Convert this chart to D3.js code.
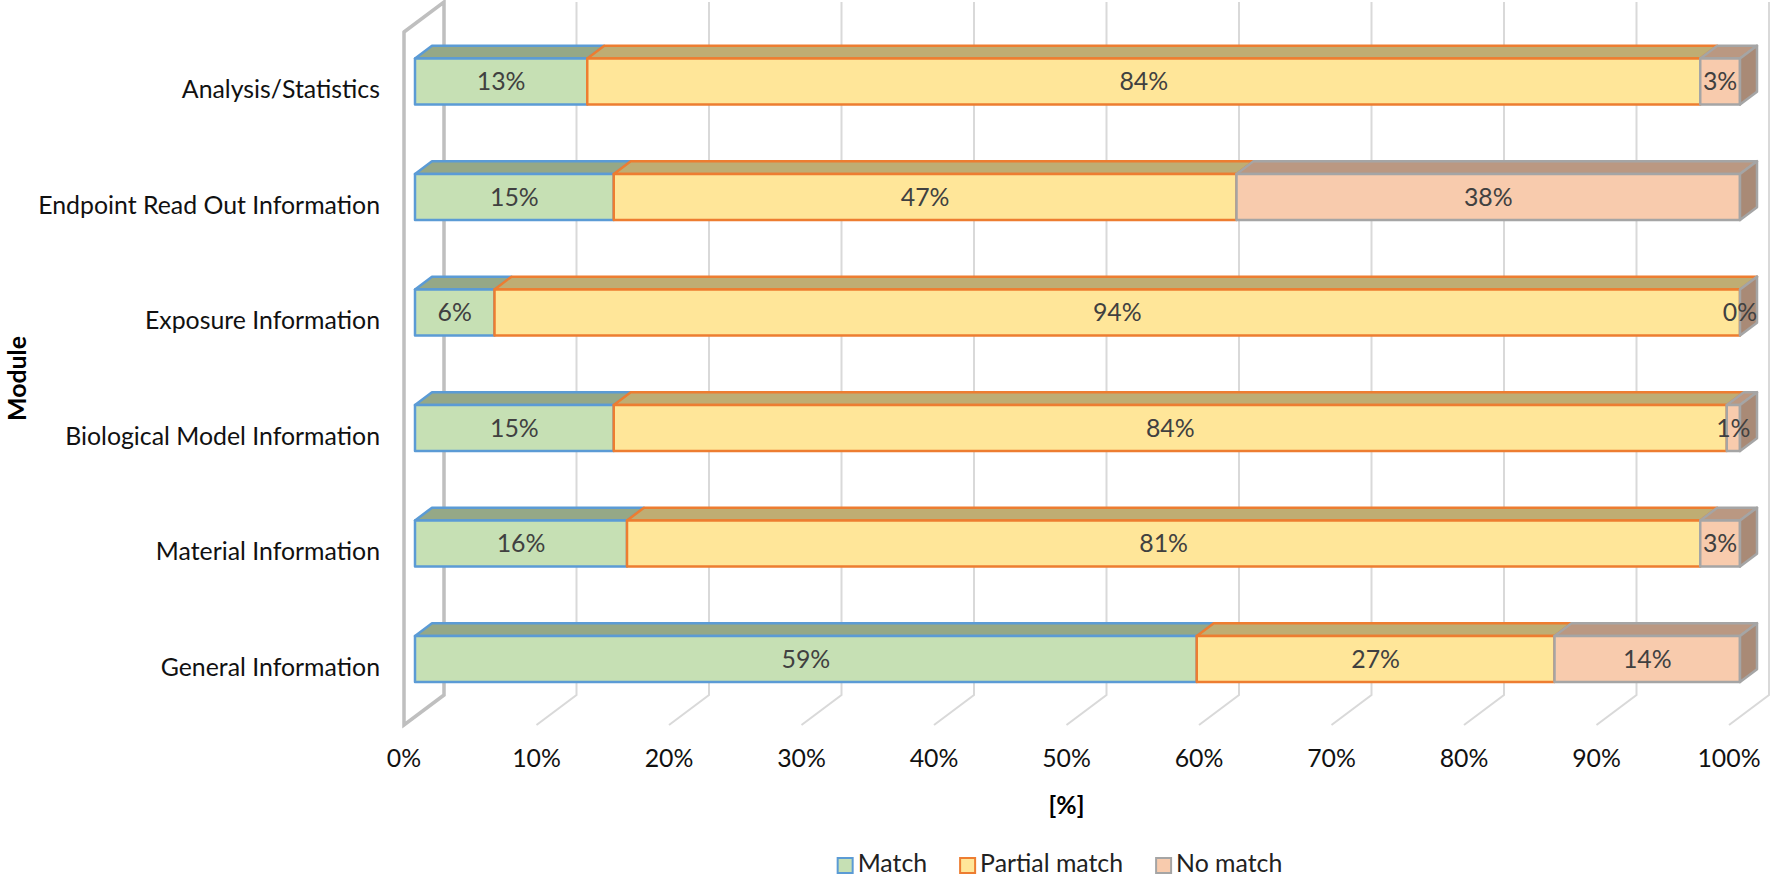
<!DOCTYPE html>
<html>
<head>
<meta charset="utf-8">
<script src="https://cdn.jsdelivr.net/npm/d3@7"></script>
<style>
  html, body { margin: 0; padding: 0; background: #fff; overflow: hidden; }
  svg { display: block; }
  text { font-family: Lato, "Open Sans", sans-serif; }
</style>
</head>
<body>
<svg id="chart" width="1770" height="878"></svg>
<script>
// ---------- data ----------
const categories = [
  "Analysis/Statistics",
  "Endpoint Read Out Information",
  "Exposure Information",
  "Biological Model Information",
  "Material Information",
  "General Information"
];
const seriesNames = ["Match", "Partial match", "No match"];
const matchValues   = [13, 15, 6, 15, 16, 59];
const partialValues = [84, 47, 94, 84, 81, 27];
const noMatchValues = [3, 38, 0, 1, 3, 14];
const xTickValues = [0, 10, 20, 30, 40, 50, 60, 70, 80, 90, 100];
const xAxisTitle = "[%]";
const yAxisTitle = "Module";

// ---------- style ----------
const fills   = ["#C6E0B4", "#FFE699", "#F8CBAD"];
const borders = ["#5B9BD5", "#ED7D31", "#A5A5A5"];
const topShade = 0.75, sideShade = 0.68;
const shade = (c, k) => { const r = d3.rgb(c); return d3.rgb(r.r * k, r.g * k, r.b * k).formatHex(); };

const svg = d3.select("#chart");

// font size fitted to a Calibri-like label width
const probe = svg.append("text").attr("font-size", 100).text("Biological Model Information");
const probeW = probe.node().getComputedTextLength();
probe.remove();
const FS = Math.min(27, 100 * 315 / probeW);

// ---------- geometry ----------
const x = d3.scaleLinear().domain([0, 100]).range([404, 1729]);
const y = d3.scaleBand().domain(categories).range([32, 725]).paddingInner(0.6).paddingOuter(0.3);
const yBand = d3.scaleBand().domain(categories).range([32, 725]);
const DX = 40, DY = -30;          // full depth of the plot
const f1 = 0.275, f2 = 0.7;       // bar depth (front, back) as fractions
const fx = DX * f1, fy = DY * f1, bx = DX * f2, by = DY * f2;
const bh = y.bandwidth();

// ---------- walls & grid ----------
const grid = svg.append("g");
xTickValues.forEach(t => {
  if (t === 0) return;
  const xf = x(t), xb = x(t) + DX;
  grid.append("path")
    .attr("d", `M${xb},${32 + DY} L${xb},${725 + DY} L${xf},725`)
    .attr("fill", "none").attr("stroke", "#D9D9D9").attr("stroke-width", 2);
});
// left side wall
grid.append("path")
  .attr("d", `M${x(0)},32 L${x(0) + DX},${32 + DY} L${x(0) + DX},${725 + DY} L${x(0)},725 Z`)
  .attr("fill", "none").attr("stroke", "#BFBFBF").attr("stroke-width", 3.5).attr("stroke-linejoin", "miter");

// ---------- bars ----------
const seriesValues = [matchValues, partialValues, noMatchValues];
const stackData = categories.map((c, i) => {
  const o = { cat: c };
  seriesNames.forEach((s, k) => o[s] = seriesValues[k][i]);
  return o;
});
const stacked = d3.stack().keys(seriesNames)(stackData);

const barsG = svg.append("g");
categories.forEach((cat, i) => {
  const yt = y(cat);
  stacked.forEach((layer, k) => {
    const x0 = x(layer[i][0]), x1 = x(layer[i][1]);
    const g = barsG.append("g")
      .attr("stroke", borders[k]).attr("stroke-width", 2.5).attr("stroke-linejoin", "round");
    // top face
    g.append("path")
      .attr("d", `M${x0 + fx},${yt + fy} L${x1 + fx},${yt + fy} L${x1 + bx},${yt + by} L${x0 + bx},${yt + by} Z`)
      .attr("fill", shade(fills[k], topShade));
    // front face
    g.append("rect")
      .attr("x", x0 + fx).attr("y", yt + fy)
      .attr("width", Math.max(0, x1 - x0)).attr("height", bh)
      .attr("fill", fills[k]);
    // right side face for the last segment
    if (k === stacked.length - 1) {
      g.append("path")
        .attr("d", `M${x1 + fx},${yt + fy} L${x1 + bx},${yt + by} L${x1 + bx},${yt + by + bh} L${x1 + fx},${yt + fy + bh} Z`)
        .attr("fill", shade(fills[k], sideShade));
    }
  });
  // data labels
  stacked.forEach((layer, k) => {
    const x0 = x(layer[i][0]), x1 = x(layer[i][1]);
    barsG.append("text")
      .attr("x", (x0 + x1) / 2 + fx).attr("y", yt + fy + bh / 2)
      .attr("dy", "0.35em").attr("text-anchor", "middle")
      .attr("font-size", FS).attr("fill", "#404040")
      .text(seriesValues[k][i] + "%");
  });
});

// ---------- axes labels ----------
const catG = svg.append("g");
categories.forEach(cat => {
  catG.append("text")
    .attr("x", 380).attr("y", yBand(cat) + yBand.bandwidth() / 2)
    .attr("dy", "0.35em").attr("text-anchor", "end")
    .attr("font-size", FS).attr("fill", "#111")
    .text(cat);
});
const tickG = svg.append("g");
xTickValues.forEach(t => {
  tickG.append("text")
    .attr("x", x(t)).attr("y", 758)
    .attr("dy", "0.35em").attr("text-anchor", "middle")
    .attr("font-size", FS).attr("fill", "#111")
    .text(t + "%");
});
svg.append("text")
  .attr("x", (x(0) + x(100)) / 2).attr("y", 805).attr("dy", "0.35em")
  .attr("text-anchor", "middle").attr("font-size", FS).attr("font-weight", "bold").attr("fill", "#000")
  .text(xAxisTitle);
svg.append("text")
  .attr("transform", `translate(26,${(32 + 725) / 2}) rotate(-90)`)
  .attr("text-anchor", "middle")
  .attr("font-size", FS).attr("font-weight", "bold").attr("fill", "#000")
  .text(yAxisTitle);

// ---------- legend ----------
const legend = svg.append("g");
const items = seriesNames.map((s, k) => {
  const t = legend.append("text").attr("font-size", FS).attr("fill", "#222").text(s);
  return { t, w: t.node().getComputedTextLength(), k };
});
const sq = 15, gapT = 5, gapI = 33;
const totalW = d3.sum(items, d => sq + gapT + d.w) + gapI * (items.length - 1);
let lx = 1060 - totalW / 2;
items.forEach(d => {
  legend.append("rect").attr("x", lx).attr("y", 858).attr("width", sq).attr("height", sq)
    .attr("fill", fills[d.k]).attr("stroke", borders[d.k]).attr("stroke-width", 2);
  d.t.attr("x", lx + sq + gapT).attr("y", 872);
  lx += sq + gapT + d.w + gapI;
});
</script>
</body>
</html>
